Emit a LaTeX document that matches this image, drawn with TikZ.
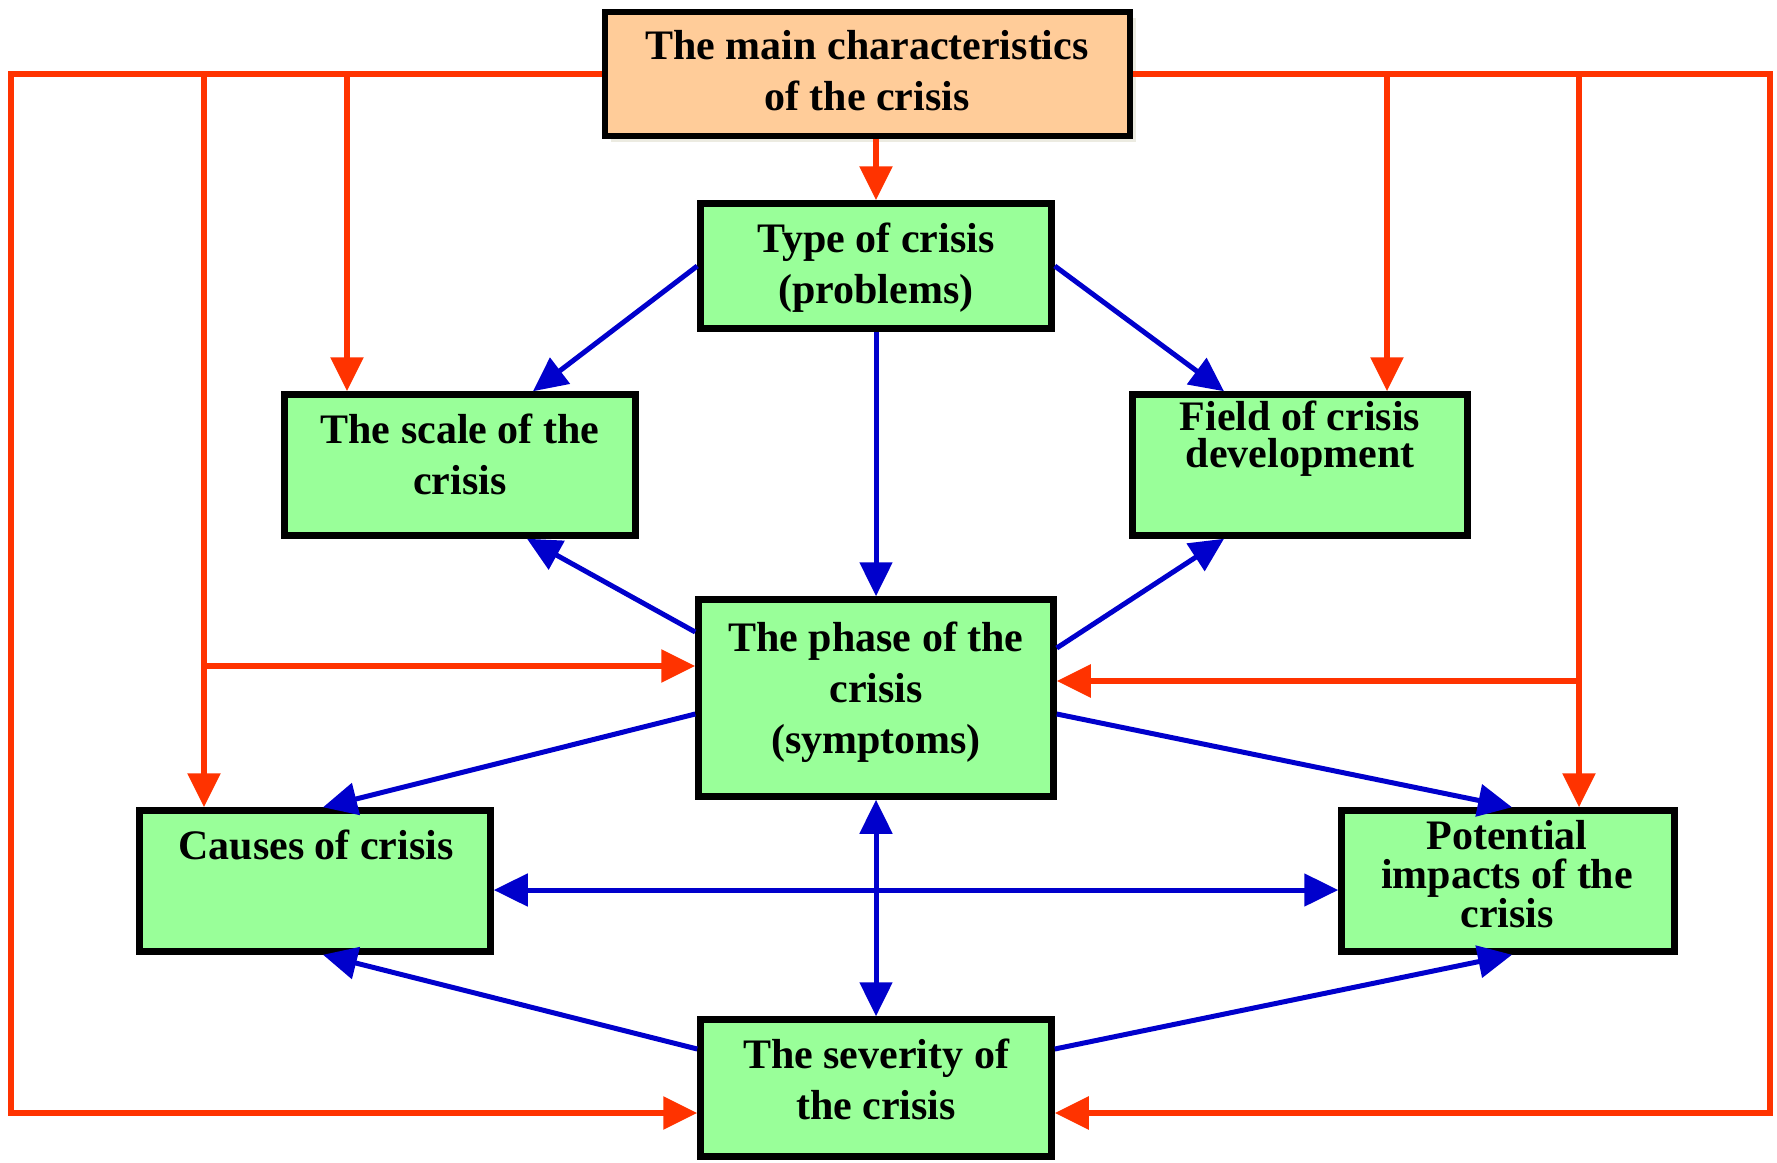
\documentclass[tikz,border=0pt]{standalone}
\usepackage{fontspec}
\setmainfont{Liberation Serif}
\usetikzlibrary{arrows.meta,shadows}
\definecolor{redl}{HTML}{FF3300}
\definecolor{bluel}{HTML}{0000CC}
\definecolor{boxgreen}{HTML}{99FF99}
\definecolor{boxorange}{HTML}{FFCC99}
\definecolor{shadowc}{HTML}{ECEBE1}
\tikzset{
  box/.style={draw=black, line width=6.5pt, fill=boxgreen, rectangle, inner sep=0pt},
  topbox/.style={box, fill=boxorange, drop shadow={shadow xshift=6pt, shadow yshift=-6pt, fill=shadowc, opacity=1}},
  lbl/.style={font=\bfseries\fontsize{42}{51}\selectfont, align=center, inner sep=0pt, text=black},
  tip/.style={-{Triangle[length=34pt,width=32pt]}},
  tips/.style={{Triangle[length=34pt,width=32pt]}-{Triangle[length=34pt,width=32pt]}},
  rl/.style={draw=redl, line width=5.5pt},
  bl/.style={draw=bluel, line width=5pt},
}
\begin{document}
\begin{tikzpicture}[x=1pt,y=-1pt]
\useasboundingbox (0,0) rectangle (1777,1162);
% boxes
\node[topbox, minimum width=525pt, minimum height=124pt] (top) at (867.5,74) {};
\node[box, minimum width=351pt, minimum height=125pt] (type) at (876,266) {};
\node[box, minimum width=351pt, minimum height=141pt] (scale) at (460,465) {};
\node[box, minimum width=335pt, minimum height=141pt] (field) at (1300,465) {};
\node[box, minimum width=355pt, minimum height=197pt] (phase) at (876,698) {};
\node[box, minimum width=351pt, minimum height=141pt] (causes) at (315,881) {};
\node[box, minimum width=333pt, minimum height=141pt] (potential) at (1508,881) {};
\node[box, minimum width=351pt, minimum height=137pt] (sev) at (876,1088) {};
% texts
\node[lbl] (topT) at (867,70.5) {The main characteristics\\of the crisis};
\node[lbl] (typeT) at (876,267.5) {Type of crisis\\(problems)};
\node[lbl] (scaleT) at (460,454) {The scale of the\\crisis};
\node[lbl, font=\bfseries\fontsize{42}{37}\selectfont] (fieldT) at (1300,439) {Field of crisis\\development};
\node[lbl] (phaseT) at (876,692.5) {The phase of the\\crisis\\(symptoms)};
\node[lbl] (causesT) at (316,845) {Causes of crisis};
\node[lbl, font=\bfseries\fontsize{42}{39}\selectfont] (potentialT) at (1507,874) {Potential\\impacts of the\\crisis};
\node[lbl] (sevT) at (876,1079) {The severity of\\the crisis};
% red coordinates
\coordinate (L1) at (11,74);
\coordinate (L2) at (11,1113);
\coordinate (R1) at (1770,74);
\coordinate (R2) at (1770,1113);
\coordinate (bA) at (204,74);
\coordinate (bB) at (204,666);
\coordinate (bC) at (347,74);
\coordinate (bD) at (1387,74);
\coordinate (bE) at (1579,74);
\coordinate (bF) at (1579,681);
% red connectors
\draw[rl, tip] (top.west) -- (L1) -- (L2) -- (L2 -| sev.west);
\draw[rl, tip] (top.east) -- (R1) -- (R2) -- (R2 -| sev.east);
\draw[rl, tip] (bA) -- (bA |- causes.north);
\draw[rl, tip] (bB) -- (bB -| phase.west);
\draw[rl, tip] (bC) -- (bC |- scale.north);
\draw[rl, tip] (bD) -- (bD |- field.north);
\draw[rl, tip] (bE) -- (bE |- potential.north);
\draw[rl, tip] (bF) -- (bF -| phase.east);
\draw[rl, tip] (type.north |- top.south) -- (type.north);
% blue connectors
\draw[bl, tip] (type.west) -- ([xshift=73pt]scale.north);
\draw[bl, tip] (type.east) -- ([xshift=-76pt]field.north);
\draw[bl, tip] (type.south) -- (phase.north);
\draw[bl, tip] ([yshift=66pt]phase.west) -- ([xshift=67pt]scale.south);
\draw[bl, tip] ([yshift=50pt]phase.east) -- ([xshift=-76pt]field.south);
\draw[bl, tip] ([yshift=-16pt]phase.west) -- ([xshift=8pt]causes.north);
\draw[bl, tip] ([yshift=-16pt]phase.east) -- ([xshift=4pt]potential.north);
\draw[bl, tips] (phase.south) -- (sev.north);
\draw[bl, tips] ([yshift=-9pt]causes.east) -- ([yshift=-9pt]potential.west);
\draw[bl, tip] ([yshift=39pt]sev.west) -- ([xshift=8pt]causes.south);
\draw[bl, tip] ([yshift=39pt]sev.east) -- ([xshift=4pt]potential.south);
\end{tikzpicture}
\end{document}
